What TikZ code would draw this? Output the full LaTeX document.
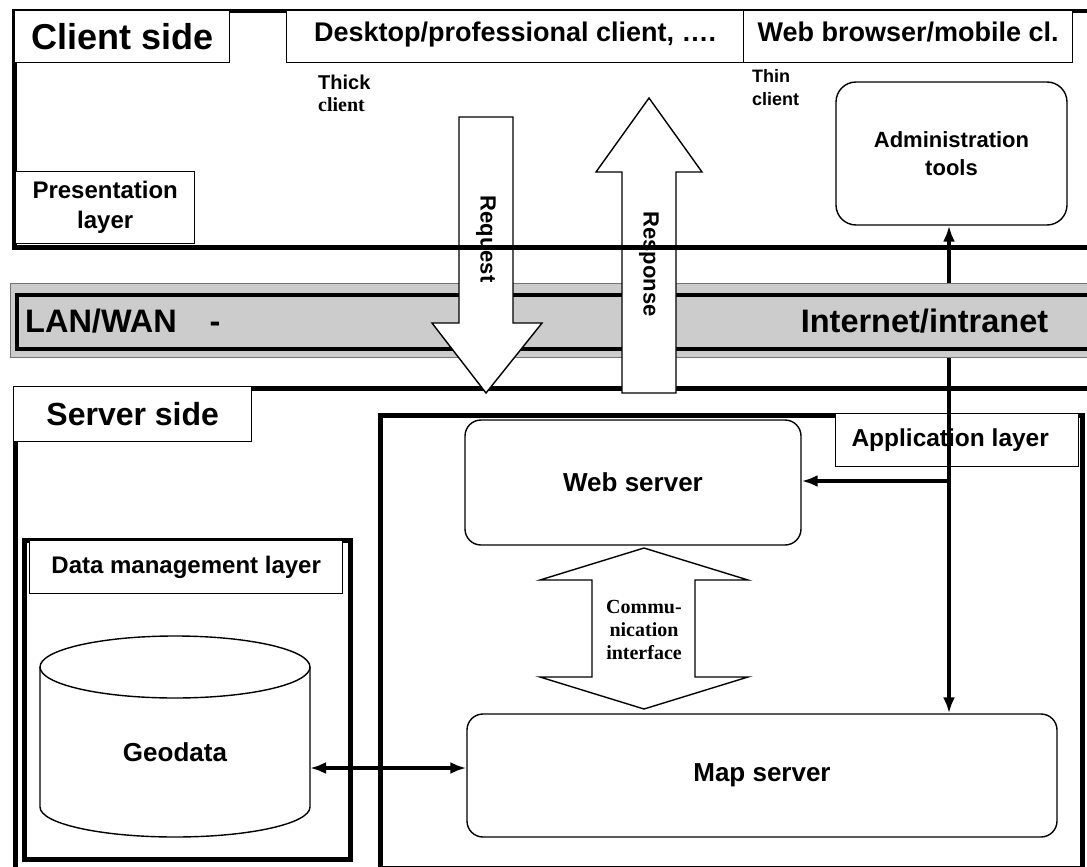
\documentclass[tikz,border=0pt]{standalone}
\usepackage{fontspec}
\setmainfont{Liberation Serif}
\setsansfont{Liberation Sans}
\usetikzlibrary{arrows.meta}
\begin{document}
\begin{tikzpicture}[x=1pt,y=-1pt,
  frame/.style={draw, line width=4.5pt, inner sep=0pt},
  lbl/.style={draw, line width=1.4pt, fill=white, inner sep=0pt, align=center},
  rbox/.style={draw, line width=1.4pt, fill=white, inner sep=0pt, align=center, rounded corners=16pt},
  blockarrow/.style={draw, line width=1.4pt, fill=white, line join=miter},
  conn/.style={line width=3.2pt, -{Latex[length=16pt,width=12pt]}},
  dconn/.style={line width=3.2pt, {Latex[length=16pt,width=12pt]}-{Latex[length=16pt,width=12pt]}},
  txt/.style={inner sep=0pt, align=center}]
\useasboundingbox (0,0) rectangle (1087,867);
\clip (0,0) rectangle (1087,867);
\fill[white] (0,0) rectangle (1087,867);

% ---------- server side ----------
\node[frame, anchor=north west, minimum width=1200pt, minimum height=600pt] (server) at (13,386) {};
\node[lbl, anchor=north west, minimum width=238pt, minimum height=55pt,
  font=\sffamily\bfseries\fontsize{32}{36}\selectfont] (serverlbl) at (13,386) {Server side};

% data management layer
\node[frame, anchor=north west, minimum width=326pt, minimum height=319pt] (data) at (22,538) {};
\node[lbl, anchor=north west, minimum width=313pt, minimum height=53pt,
  font=\sffamily\bfseries\fontsize{24}{28}\selectfont] (datalbl) at (29,540) {Data management layer};
\draw[line width=1.4pt, fill=white] (40,667) -- (40,807)
  arc[start angle=180, end angle=360, x radius=135pt, y radius=30pt] -- (310,667);
\draw[line width=1.4pt, fill=white] (175,667) ellipse [x radius=135pt, y radius=31pt];
\node[txt, font=\sffamily\bfseries\fontsize{26}{30}\selectfont] (geo) at (175,752) {Geodata};
\coordinate (geoE) at (310,768);

% application layer
\node[frame, anchor=north west, minimum width=702pt, minimum height=453pt] (app) at (378,413) {};
\node[lbl, anchor=north west, minimum width=243pt, minimum height=53pt,
  font=\sffamily\bfseries\fontsize{24.5}{28}\selectfont] (applbl) at (835,413) {Application layer\hspace*{14pt}};
\node[rbox, minimum width=336pt, minimum height=125pt,
  font=\sffamily\bfseries\fontsize{26}{30}\selectfont] (web) at (633,482.5) {Web server};
\node[rbox, minimum width=590pt, minimum height=123pt,
  font=\sffamily\bfseries\fontsize{26}{30}\selectfont] (map) at (762,775.5) {Map server};

% communication interface (double block arrow)
\draw[blockarrow] (644,548) -- (748,580) -- (695,580) -- (695,677) -- (748,677) -- (644,709)
  -- (540,677) -- (592,677) -- (592,580) -- (540,580) -- cycle;
\node[txt, font=\rmfamily\bfseries\fontsize{20}{23}\selectfont] (comm) at (644,630) {Commu-\\nication\\interface};

% connectors
\coordinate (vx) at (949,481);
\draw[dconn, line width=4pt] (geoE) -- (map.west |- geoE);
\draw[conn] (vx) -- (web.east |- vx);

% ---------- admin box + vertical connector ----------
\node[rbox, rounded corners=20pt, minimum width=231pt, minimum height=143pt,
  font=\sffamily\bfseries\fontsize{22}{28}\selectfont] (admin) at (951.5,153.5) {Administration\\tools};
\draw[dconn] (admin.south -| vx) -- (map.north -| vx);

% ---------- LAN/WAN band ----------
\node[draw=black!55, line width=0.8pt, fill=black!20, anchor=north west, inner sep=0pt,
  minimum width=1200pt, minimum height=74pt] (bandout) at (10,283) {};
\node[frame, line width=4pt, anchor=north west, minimum width=1200pt, minimum height=54pt] (band) at (15,293) {};
\node[txt, anchor=base west, font=\sffamily\bfseries\fontsize{32.5}{36}\selectfont] (lan) at (25,332) {LAN/WAN};
\node[txt, anchor=base, font=\sffamily\bfseries\fontsize{32.5}{36}\selectfont] (dash) at (215,332) {-};
\node[txt, anchor=base, font=\sffamily\bfseries\fontsize{32.5}{36}\selectfont] (inet) at (924.5,332) {Internet/intranet};

% ---------- request / response ----------
\draw[blockarrow] (459,117) -- (513,117) -- (513,323) -- (542,323) -- (486,393) -- (432,323) -- (459,323) -- cycle;
\node[txt, rotate=-90, font=\sffamily\bfseries\fontsize{22}{26}\selectfont] (req) at (486,239) {Request};
\draw[blockarrow] (622,393) -- (676,393) -- (676,172) -- (702,172) -- (649,98) -- (596,172) -- (622,172) -- cycle;
\node[txt, rotate=-90, font=\sffamily\bfseries\fontsize{22}{26}\selectfont] (resp) at (649,264) {Response};

% ---------- client side ----------
\node[frame, anchor=north west, minimum width=1200pt, minimum height=236pt] (client) at (12,9) {};
\node[lbl, anchor=north west, minimum width=215pt, minimum height=52pt,
  font=\sffamily\bfseries\fontsize{36}{40}\selectfont] (clientlbl) at (14,10) {Client side};
\node[lbl, anchor=north west, minimum width=457pt, minimum height=52pt,
  font=\sffamily\bfseries\fontsize{27}{31}\selectfont] (desktop) at (286,10) {Desktop/professional client, ….\rule[-9pt]{0pt}{0pt}};
\node[lbl, anchor=north west, minimum width=329pt, minimum height=52pt,
  font=\sffamily\bfseries\fontsize{27}{31}\selectfont] (browser) at (743,10) {Web browser/mobile cl.\rule[-9pt]{0pt}{0pt}};
\node[txt, anchor=north west, align=left, font=\sffamily\bfseries\fontsize{20}{22}\selectfont] (thick) at (318,75) {Thick\\{\rmfamily client}};
\node[txt, anchor=north west, align=left, font=\sffamily\bfseries\fontsize{18}{23}\selectfont] (thin) at (752,69) {Thin\\client};
\node[lbl, anchor=north west, minimum width=179pt, minimum height=72pt,
  font=\sffamily\bfseries\fontsize{24}{30}\selectfont] (pres) at (15,171) {Presentation\\layer};
\end{tikzpicture}
\end{document}
